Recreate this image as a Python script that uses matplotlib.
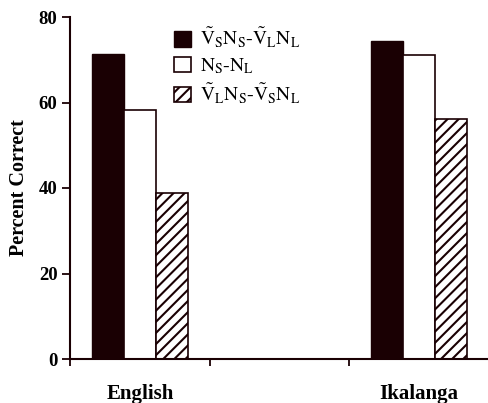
import numpy as np
import matplotlib
matplotlib.use("Agg")
import matplotlib.pyplot as plt

plt.rcParams['font.family'] = 'Liberation Serif'
plt.rcParams['mathtext.fontset'] = 'stix'
plt.rcParams['hatch.linewidth'] = 1.5

# data
languages = ['English', 'Ikalanga']
series_labels = [
    r'$\tilde{\mathrm{V}}_{\mathrm{S}}\mathrm{N}_{\mathrm{S}}$-$\tilde{\mathrm{V}}_{\mathrm{L}}\mathrm{N}_{\mathrm{L}}$',
    r'$\mathrm{N}_{\mathrm{S}}$-$\mathrm{N}_{\mathrm{L}}$',
    r'$\tilde{\mathrm{V}}_{\mathrm{L}}\mathrm{N}_{\mathrm{S}}$-$\tilde{\mathrm{V}}_{\mathrm{S}}\mathrm{N}_{\mathrm{L}}$',
]
vsns_vlnl = [71.3, 74.5]
ns_nl = [58.3, 71.0]
vlns_vsnl = [38.9, 56.2]

dark = '#1a0003'

fig = plt.figure(figsize=(4.89, 4.03), dpi=100)
ax = fig.add_axes([70 / 489, 1 - 359 / 403, 419 / 489, 342 / 403])

# English in slot 0, empty slot 1, Ikalanga in slot 2
pos = np.array([0, 2])
w = 0.228
ax.bar(pos - w, vsns_vlnl, w, color=dark, edgecolor=dark, lw=1, label=series_labels[0])
ax.bar(pos, ns_nl, w, color='white', edgecolor=dark, lw=1.2, label=series_labels[1])
ax.bar(pos + w, vlns_vsnl, w, color='white', edgecolor=dark, lw=1.2, hatch='///', label=series_labels[2])

ax.set_xlim(-0.5, -0.5 + 419 / 140.5)
ax.set_ylim(0, 80)
ax.set_yticks([0, 20, 40, 60, 80])
ax.set_xticks([-0.5, 0.5, 1.5, 2.5])
ax.set_xticklabels([])
ax.set_xticks(pos, minor=True)
ax.set_xticklabels(languages, minor=True, fontsize=15, fontweight='bold')
ax.tick_params(axis='x', which='minor', length=0, pad=18)
ax.tick_params(axis='x', which='major', direction='out', length=5, width=1.3, color=dark)
ax.tick_params(axis='y', direction='out', length=6, width=1.3, color=dark, labelsize=13.5, pad=3)
for t in ax.get_yticklabels():
    t.set_fontweight('bold')

for s in ['top', 'right']:
    ax.spines[s].set_visible(False)
for s in ['left', 'bottom']:
    ax.spines[s].set_linewidth(1.5)
    ax.spines[s].set_color(dark)

ax.set_ylabel('Percent Correct', fontsize=14.5, fontweight='bold', labelpad=7)

ax.legend(loc='upper left', bbox_to_anchor=(174 / 489, 1 - 26 / 403),
          bbox_transform=fig.transFigure, frameon=False, fontsize=14,
          handlelength=0.85, handleheight=0.85, handletextpad=0.5,
          labelspacing=0.3, borderpad=0, borderaxespad=0)

fig.savefig('out.png', dpi=100)
